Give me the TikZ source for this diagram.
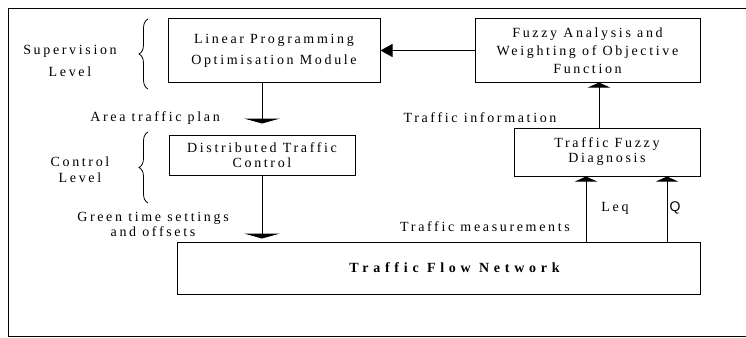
\documentclass[tikz,border=0pt]{standalone}
\usepackage{fontspec}
\setmainfont[LetterSpace=19]{Liberation Serif}
\newfontfamily\plainsans{Liberation Sans}
\usepackage{tikz}
\usetikzlibrary{arrows.meta}
\usetikzlibrary{decorations.pathreplacing}
\newcommand{\diagfont}{\fontsize{14}{16}\selectfont}
\newcommand{\boxheight}{63}
\tikzset{
    common/.style={draw, line width=1pt, rectangle, align=center, font=\diagfont},
    box/.style={common, inner sep=2pt},
    flowlabel/.style={font=\diagfont, align=center, inner sep=0pt},
    flat/.style={-{Triangle[width=36pt, length=5pt]}, line width=1pt},
    flatup/.style={-{Triangle[width=22pt, length=5pt]}, line width=1pt},
    pointer/.style={-{Triangle[width=13pt, length=12pt]}, line width=1pt},
    level/.style={decorate, decoration={brace, amplitude=9pt}, line width=0.8pt}
}

\begin{document}
\begin{tikzpicture}[x=1pt, y=-1pt]
        \useasboundingbox (0,0) rectangle (746,337);
        \clip (0,0) rectangle (746,337);
        \draw[line width=1pt] (8,9) rectangle (760,336);

        \node[box, minimum width=212, minimum height=\boxheight] (lp-module) at (274,50.5)
            {Linear Programming\\[5pt]Optimisation Module};
        \node[box, minimum width=225, minimum height=\boxheight] (fuzzy-analysis) at (587.5,50.5)
            {Fuzzy Analysis and\\[2pt]Weighting of Objective\\[2pt]Function};
        \node[box, minimum width=186, minimum height=40] (dist-control) at (262,155)
            {Distributed Traffic\\[-1pt]Control};
        \node[box, minimum width=186, minimum height=48] (fuzzy-diag) at (607,152)
            {Traffic Fuzzy\\[-1pt]Diagnosis};
        \node[box, minimum width=523, minimum height=52,
              font=\fontsize{14}{16}\selectfont\bfseries\addfontfeatures{LetterSpace=34}] (flow-network) at (438.5,268)
            {\hspace*{32pt}Traffic Flow Network};

        % levels on the left
        \node[flowlabel] (supervision) at (70,61) {Supervision\\[6pt]Level};
        \node[flowlabel] (control) at (80,170) {Control\\[0pt]Level};
        \coordinate (sup-top) at (148,19);
        \coordinate (sup-bottom) at (148,89);
        \coordinate (ctl-top) at (148,132);
        \coordinate (ctl-bottom) at (148,203);
        \draw[level] (sup-bottom) -- (sup-top);
        \draw[level] (ctl-bottom) -- (ctl-top);

        % signal names
        \node[flowlabel, anchor=east] (area-plan) at (220,118) {Area traffic plan};
        \node[flowlabel] (green-time) at (153,224) {Green time settings\\[-1pt]and offsets};
        \node[flowlabel] (traffic-info) at (480,118) {Traffic information};
        \node[flowlabel] (traffic-meas) at (485,227) {Traffic measurements};
        \node[flowlabel] (leq) at (615,208) {Leq};
        \node[flowlabel, font=\plainsans\fontsize{14}{16}\selectfont] (q) at (675,208) {Q};

        \draw[pointer] (fuzzy-analysis.west) -- (lp-module.east);
        \draw[flat, shorten >=11pt] (dist-control.north |- lp-module.south) -- (dist-control.north);
        \draw[flat, shorten >=3pt] (dist-control.south) -- (dist-control.south |- flow-network.north);
        \draw[flatup] ([xshift=-8pt]fuzzy-diag.north) -- ([xshift=-8pt]fuzzy-diag.north |- fuzzy-analysis.south);
        \draw[flatup] ([xshift=-21pt]fuzzy-diag.south |- flow-network.north) -- ([xshift=-21pt]fuzzy-diag.south);
        \draw[flatup] ([xshift=60pt]fuzzy-diag.south |- flow-network.north) -- ([xshift=60pt]fuzzy-diag.south);
    \end{tikzpicture}
\end{document}
